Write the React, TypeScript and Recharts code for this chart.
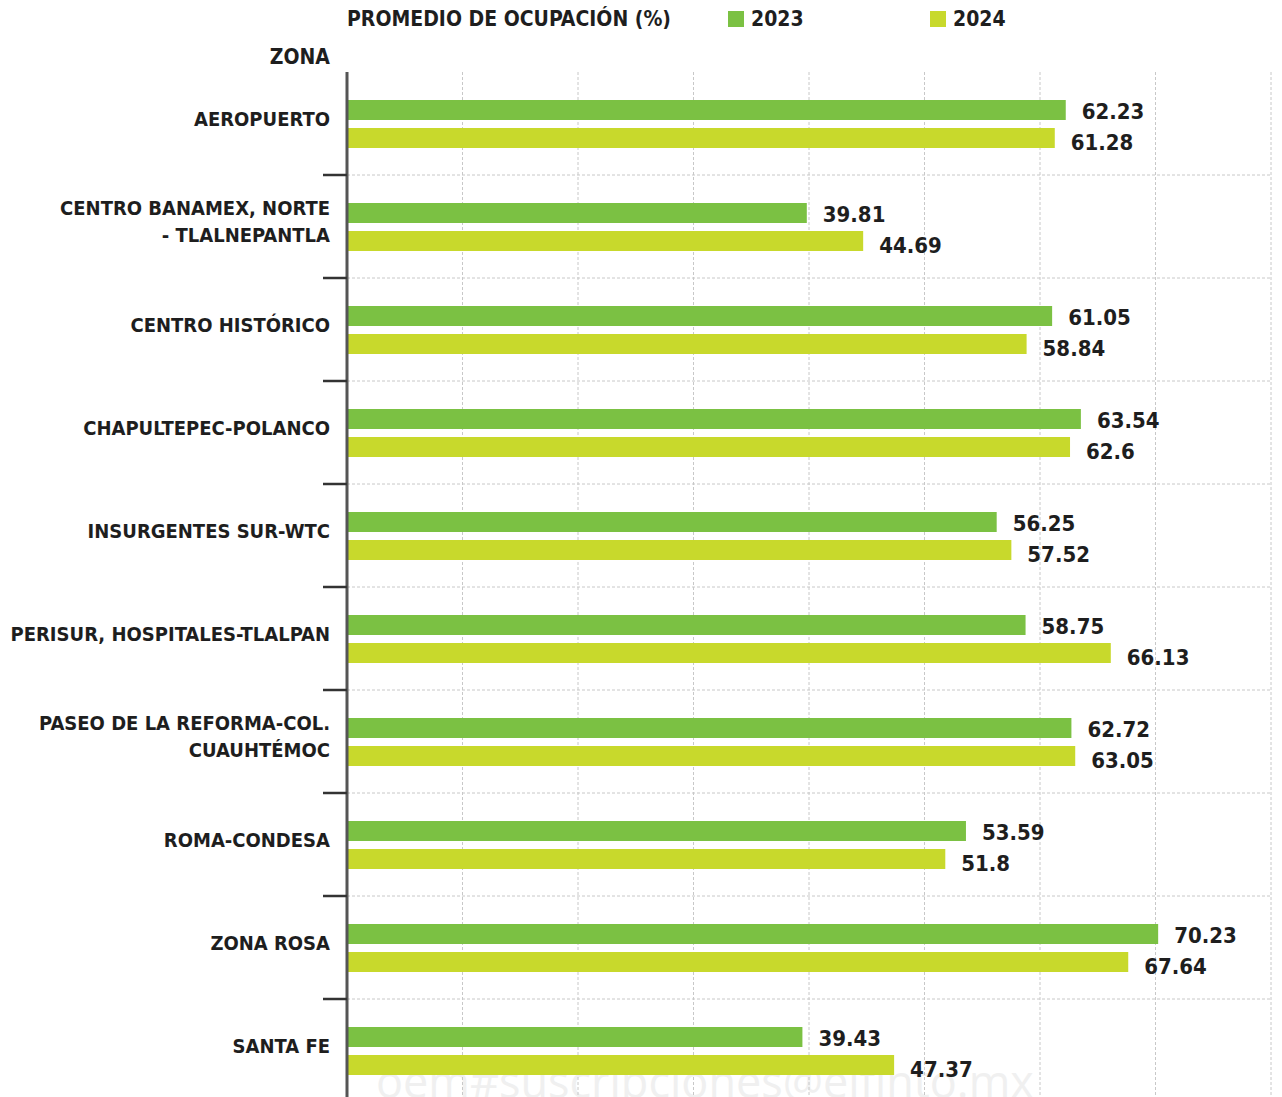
import React from 'react';
import { BarChart, Bar, XAxis, YAxis, CartesianGrid, LabelList } from 'recharts';

const zonas = [
  'AEROPUERTO',
  'CENTRO BANAMEX, NORTE\n- TLALNEPANTLA',
  'CENTRO HISTÓRICO',
  'CHAPULTEPEC-POLANCO',
  'INSURGENTES SUR-WTC',
  'PERISUR, HOSPITALES-TLALPAN',
  'PASEO DE LA REFORMA-COL.\nCUAUHTÉMOC',
  'ROMA-CONDESA',
  'ZONA ROSA',
  'SANTA FE',
];
const ocupacion2023 = [62.23, 39.81, 61.05, 63.54, 56.25, 58.75, 62.72, 53.59, 70.23, 39.43];
const ocupacion2024 = [61.28, 44.69, 58.84, 62.6, 57.52, 66.13, 63.05, 51.8, 67.64, 47.37];
const xTicks = [0, 10, 20, 30, 40, 50, 60, 70, 80];

const data = zonas.map((zona, i) => ({
  zona,
  v2023: ocupacion2023[i],
  v2024: ocupacion2024[i],
}));

const FONT = '"DejaVu Sans Condensed", "DejaVu Sans", sans-serif';
const GREEN = '#7bc143';
const LIME = '#c8d92c';
const CHART_W = 1282;
const CHART_H = 1110;
const MARGIN = { top: 72, right: 11, bottom: 8, left: 0 };
const BAND = (CHART_H - MARGIN.top - MARGIN.bottom) / zonas.length;

const ZonaTick = (props: any) => {
  const { x, y, payload } = props;
  const lines = String(payload.value).split('\n');
  const axisX = x + 17;
  return (
    <g>
      {lines.map((line, i) => (
        <text
          key={i}
          x={x}
          y={y - 5 + (i - (lines.length - 1) / 2) * 27}
          textAnchor="end"
          dominantBaseline="central"
          fontFamily={FONT}
          fontWeight="bold"
          fontSize={20}
          fill="#1e1e1e"
        >
          {line}
        </text>
      ))}
      <line x1={axisX - 24} x2={axisX} y1={y + BAND / 2} y2={y + BAND / 2} stroke="#333" strokeWidth={2.5} />
    </g>
  );
};

const valueLabel = (dy: number) => (p: any) => (
  <text
    x={p.x + p.width + 16}
    y={p.y + p.height / 2 + dy}
    dominantBaseline="central"
    fontFamily={FONT}
    fontWeight="bold"
    fontSize={22}
    fill="#1e1e1e"
  >
    {p.value}
  </text>
);

export default function App() {
  return (
    <div style={{ position: 'absolute', left: 0, top: 0, width: 1282, height: 1097, overflow: 'hidden', background: '#fff' }}>
      {/* marca de agua, detrás del gráfico */}
      <div
        style={{
          position: 'absolute',
          left: 376,
          top: 1050,
          zIndex: 0,
          fontFamily: '"Open Sans", sans-serif',
          fontSize: 45,
          color: '#f0f0f0',
          whiteSpace: 'nowrap',
        }}
      >
        oem#suscripciones@elfinto.mx
      </div>
      <div
        style={{
          position: 'absolute',
          left: 347,
          top: 7,
          zIndex: 2,
          display: 'flex',
          alignItems: 'center',
          fontFamily: FONT,
          fontWeight: 'bold',
          fontSize: 21,
          color: '#1e1e1e',
        }}
      >
        <span style={{ width: 381 }}>PROMEDIO DE OCUPACIÓN (%)</span>
        <span style={{ width: 16, height: 16, background: GREEN, marginRight: 7 }} />
        <span style={{ width: 179 }}>2023</span>
        <span style={{ width: 16, height: 16, background: LIME, marginRight: 7 }} />
        <span>2024</span>
      </div>
      <div style={{ position: 'relative', zIndex: 1 }}>
        <BarChart width={CHART_W} height={CHART_H} data={data} layout="vertical" margin={MARGIN} barSize={20} barGap={8}>
          <CartesianGrid
            stroke="#c8c8c8"
            strokeDasharray="3 2"
            horizontalCoordinatesGenerator={({ offset }: any) =>
              zonas.slice(1).map((_, i) => offset.top + (i + 1) * (offset.height / zonas.length))
            }
          />
          <XAxis type="number" domain={[0, 80]} ticks={xTicks} hide />
          <YAxis
            type="category"
            dataKey="zona"
            width={347}
            tick={<ZonaTick />}
            tickLine={false}
            tickSize={0}
            tickMargin={17}
            interval={0}
            axisLine={{ stroke: '#555', strokeWidth: 3 }}
            label={{
              content: ({ viewBox }: any) => (
                <text
                  x={viewBox.x + viewBox.width - 17}
                  y={viewBox.y - 8}
                  textAnchor="end"
                  fontFamily={FONT}
                  fontWeight="bold"
                  fontSize={21}
                  fill="#1e1e1e"
                >
                  ZONA
                </text>
              ),
            }}
          />
          <Bar dataKey="v2023" name="2023" fill={GREEN} isAnimationActive={false}>
            <LabelList dataKey="v2023" content={valueLabel(1)} />
          </Bar>
          <Bar dataKey="v2024" name="2024" fill={LIME} isAnimationActive={false}>
            <LabelList dataKey="v2024" content={valueLabel(4)} />
          </Bar>
        </BarChart>
      </div>
    </div>
  );
}
